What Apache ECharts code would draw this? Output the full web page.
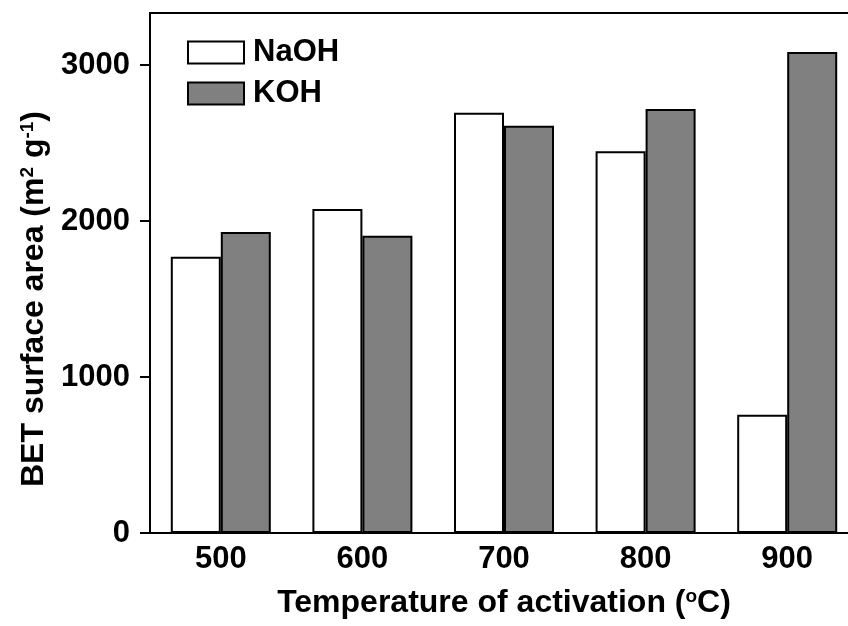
<!DOCTYPE html>
<html>
<head>
<meta charset="utf-8">
<script src="https://cdn.jsdelivr.net/npm/echarts@6/dist/echarts.min.js"></script>
<style>html,body{margin:0;padding:0;background:#fff}#c{width:848px;height:626px}</style>
</head>
<body>
<div id="c"></div>
<script>
var categories = ['500', '600', '700', '800', '900'];
var naohValues = [1771, 2077, 2694, 2447, 758];
var kohValues = [1929, 1906, 2611, 2718, 3083];
var yTicks = [0, 1000, 2000, 3000];

var FONT = 'Liberation Sans';
var chart = echarts.init(document.getElementById('c'), null, {renderer: 'canvas'});
chart.setOption({
  animation: false,
  backgroundColor: '#fff',
  grid: {left: 150, top: 13, right: -10, bottom: 93, show: true, borderColor: '#000', borderWidth: 2, outerBoundsMode: 'none', containLabel: false},
  legend: {
    orient: 'vertical', left: 187, top: 37, padding: 0, itemWidth: 56, itemHeight: 22, itemGap: 10,
    icon: 'rect',
    textStyle: {fontFamily: FONT, fontWeight: 'bold', fontSize: 31, color: '#000', padding: [0, 0, 0, 4]},
    data: ['NaOH', 'KOH']
  },
  xAxis: {
    type: 'category', data: categories, boundaryGap: true,
    axisLine: {lineStyle: {color: '#000', width: 2}},
    axisTick: {alignWithLabel: true, length: 10, lineStyle: {color: '#000', width: 2}},
    axisLabel: {fontFamily: FONT, fontWeight: 'bold', fontSize: 31, color: '#000', margin: 11},
    name: '{n|Temperature of activation (}{s|o}{n|C)}', nameLocation: 'middle', nameGap: 54,
    nameTextStyle: {rich: {
      n: {fontFamily: FONT, fontWeight: 'bold', fontSize: 32, color: '#000'},
      s: {fontFamily: FONT, fontWeight: 'bold', fontSize: 19, color: '#000', verticalAlign: 'top'}
    }}
  },
  yAxis: {
    type: 'value', min: 0, max: 3333, interval: 1000,
    splitLine: {show: false},
    axisLine: {show: true, lineStyle: {color: '#000', width: 2}},
    axisTick: {show: true, length: 10, lineStyle: {color: '#000', width: 2}},
    axisLabel: {fontFamily: FONT, fontWeight: 'bold', fontSize: 31, color: '#000', margin: 20, showMaxLabel: false,
      formatter: function (v) { return yTicks.indexOf(v) >= 0 ? String(v) : ''; }},
    name: '{n|BET surface area (m}{s|2}{n| g}{s|-1}{n|)}', nameLocation: 'middle', nameGap: 98, nameRotate: 90,
    nameTextStyle: {padding: [0, 52, 0, 0], rich: {
      n: {fontFamily: FONT, fontWeight: 'bold', fontSize: 32, color: '#000'},
      s: {fontFamily: FONT, fontWeight: 'bold', fontSize: 19, color: '#000', verticalAlign: 'top'}
    }}
  },
  series: [
    {name: 'NaOH', type: 'bar', data: naohValues, barWidth: 50, barGap: '0%',
      itemStyle: {color: '#fff', borderColor: '#000', borderWidth: 2}},
    {name: 'KOH', type: 'bar', data: kohValues, barWidth: 50, barGap: '0%',
      itemStyle: {color: '#808080', borderColor: '#000', borderWidth: 2}}
  ]
});
</script>
</body>
</html>
